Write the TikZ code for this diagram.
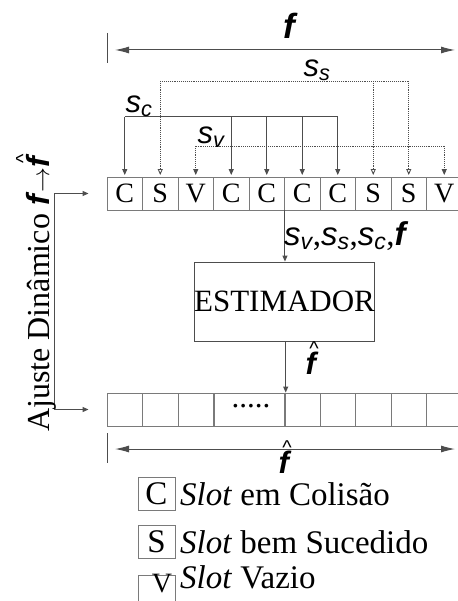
\documentclass[tikz,border=0pt]{standalone}
\usepackage{fontspec}
\setmainfont{Liberation Serif}
\setsansfont{Liberation Sans}
\usetikzlibrary{arrows.meta,positioning}
\definecolor{wire}{HTML}{4D4D4D}
\definecolor{cellgray}{HTML}{7A7A7A}
\newcommand{\lab}[2]{\textsf{\itshape #1\textsubscript{#2}}}
\newcommand{\fb}{\textsf{\bfseries\itshape f}}
\newcommand{\fhat}{\leavevmode\vbox{\offinterlineskip\halign{\hfil##\hfil\cr
  \kern4pt{\fontsize{20}{20}\selectfont\sffamily\char"5E}\cr
  \noalign{\kern-4pt}\fb\cr}}}
\tikzset{
  slotbox/.style={draw=cellgray,line width=0.9pt,minimum width=35.5pt,
                  minimum height=33pt,inner sep=0pt,font=\fontsize{28}{28}\selectfont},
  legbox/.style={draw=cellgray,line width=0.9pt,minimum width=37pt,
                 minimum height=33pt,inner sep=0pt,font=\fontsize{33}{33}\selectfont},
  lbl/.style={inner sep=0pt,font=\fontsize{31}{31}\selectfont},
  tip/.style={-{Triangle[length=6pt,width=5pt]}},
  otip/.style={-{Triangle[open,length=6pt,width=5pt]}},
  dimarrow/.style={wire,line width=1pt,{Latex[length=14pt,width=7pt]}-{Latex[length=14pt,width=7pt]}}
}

\begin{document}
\begin{tikzpicture}[x=1pt,y=-1pt]
  \useasboundingbox (0,0) rectangle (457,601);
  % quadro com f slots
  \foreach \l [count=\i] in {C,S,V,C,C,C,C,S,S,V}{
    \node[slotbox] (c\i) at (89.25+35.5*\i,193.5) {\l};}
  % largura f
  \coordinate (ftop) at (107,33);
  \coordinate (fbot) at (107,63);
  \draw[wire,line width=1pt] (ftop) -- (fbot);
  \coordinate (fl) at (115,50);
  \coordinate (fr) at (455,50);
  \draw[dimarrow] (fl) -- (fr);
  \node[lbl,font=\fontsize{35}{35}\selectfont] (flab) at (291,26) {\fb};
  % barramentos s_s, s_c, s_v
  \coordinate (buss) at (0,81);
  \coordinate (busc) at (0,117);
  \coordinate (busv) at (0,146);
  \draw[wire,line width=0.9pt,densely dotted] (c2.north |- buss) -- (c9.north |- buss);
  \foreach \i in {2,8,9}{
    \draw[wire,line width=0.9pt,densely dotted,otip,shorten >=1.5pt] (c\i.north |- buss) -- (c\i.north);}
  \draw[wire,line width=1pt] (c1.north |- busc) -- (c7.north |- busc);
  \foreach \i in {1,4,5,6,7}{
    \draw[wire,line width=1pt,tip,shorten >=1.5pt] (c\i.north |- busc) -- (c\i.north);}
  \draw[wire,line width=0.9pt,densely dotted] (c3.north |- busv) -- (c10.north |- busv);
  \foreach \i in {3,10}{
    \draw[wire,line width=0.9pt,densely dotted,tip,shorten >=1.5pt] (c\i.north |- busv) -- (c\i.north);}
  \node[lbl] (lss) at (317,70) {\lab{s}{s}};
  \node[lbl] (lsc) at (139,106) {\lab{s}{c}};
  \node[lbl] (lsv) at (211,137) {\lab{s}{v}};
  % estimador
  \node[draw=wire,line width=0.9pt,minimum width=178pt,minimum height=79pt,
        inner sep=0pt,font=\fontsize{31}{31}\selectfont] (est) at (284.5,301.5) {ESTIMADOR};
  \draw[wire,line width=1pt,tip] (c5.south east) -- (est.north -| c5.south east);
  \node[lbl,anchor=west,font=\fontsize{33}{33}\selectfont] (lall) at (284,236)
       {\lab{s}{v},\lab{s}{s},\lab{s}{c},\fb};
  % quadro com f^ slots
  \foreach \i in {1,2,3,6,7,8,9,10}{
    \node[slotbox] (b\i) at (89.25+35.5*\i,409.5) {};}
  \node[slotbox,minimum width=71pt] (b4) at (249.75,409.5) {};
  \node[lbl] (dots) at (251,406) {.....};
  \draw[wire,line width=1pt,tip] (est.south -| b4.north east) -- (b4.north east);
  \node[lbl] (lfh) at (312,358) {\fhat};
  % largura f^
  \coordinate (htop) at (107,433);
  \coordinate (hbot) at (107,463);
  \draw[wire,line width=1pt] (htop) -- (hbot);
  \coordinate (hl) at (115,449);
  \coordinate (hr) at (455,449);
  \draw[dimarrow] (hl) -- (hr);
  \node[lbl] (hlab) at (285,457) {\fhat};
  % ajuste dinamico
  \coordinate (fbk) at (54,0);
  \draw[wire,line width=1pt,{Triangle[length=6pt,width=5pt]}-{Triangle[length=6pt,width=5pt]}]
       ([xshift=-18pt]c1.west) -- (fbk |- c1.west) -- (fbk |- b1.west) -- ([xshift=-18pt]b1.west);
  \node[rotate=90,inner sep=0pt,font=\fontsize{32}{32}\selectfont] (ajuste) at (36,293)
       {Ajuste Dinâmico \fb{\fontsize{26}{26}\selectfont$\rightarrow$}\fhat};
  % legenda
  \node[legbox] (kc) at (156.5,493.5) {C};
  \node[anchor=base west,inner sep=0pt,font=\fontsize{33}{33}\selectfont] (tc) at (180,505)
       {\textit{Slot} em Colisão};
  \node[legbox] (ks) at (156.5,542) {S};
  \node[anchor=base west,inner sep=0pt,font=\fontsize{33}{33}\selectfont] (ts) at (180,553)
       {\textit{Slot} bem Sucedido};
  \node[legbox] (kv) at (156.5,591.5) {};
  \node[inner sep=0pt,font=\fontsize{28}{28}\selectfont] (kvl) at (162,584) {V};
  \node[anchor=base west,inner sep=0pt,font=\fontsize{33}{33}\selectfont] (tv) at (180,588)
       {\textit{Slot} Vazio};
\end{tikzpicture}
\end{document}
